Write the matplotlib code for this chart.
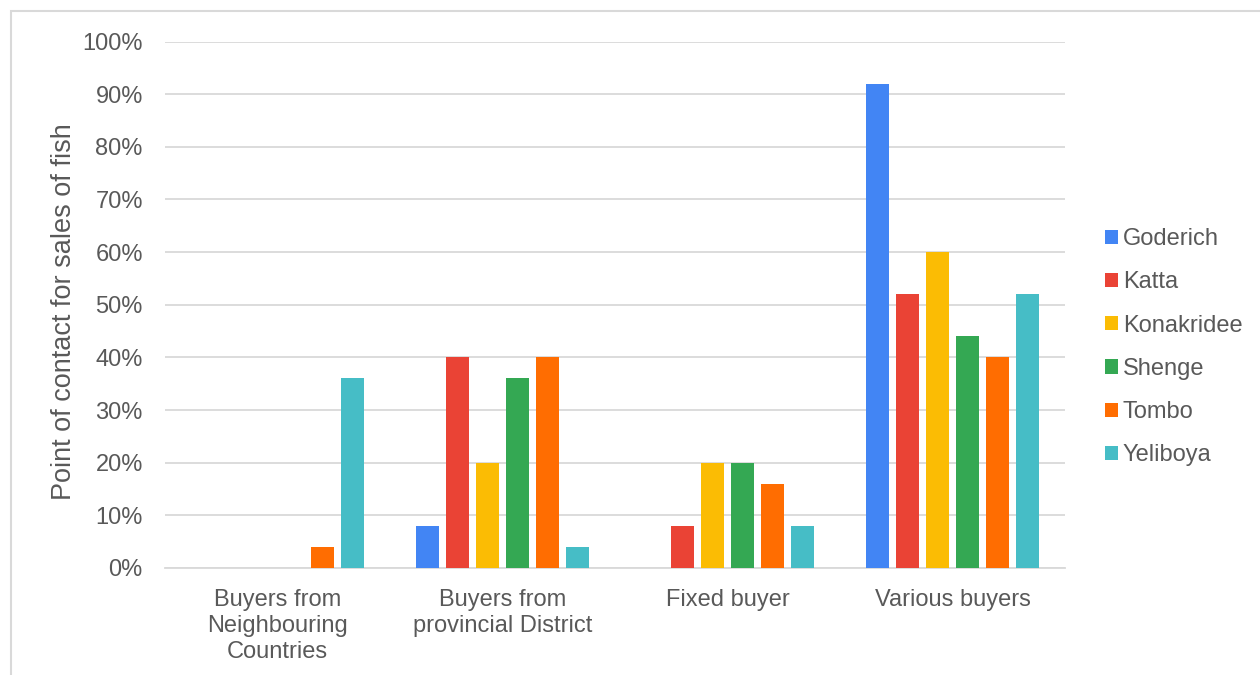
import numpy as np
import matplotlib.pyplot as plt
from matplotlib.patches import Rectangle

plt.rcParams['font.family'] = ['Liberation Sans', 'DejaVu Sans']

categories = ['Buyers from\nNeighbouring\nCountries', 'Buyers from\nprovincial District',
              'Fixed buyer', 'Various buyers']
sites = ['Goderich', 'Katta', 'Konakridee', 'Shenge', 'Tombo', 'Yeliboya']
goderich = [0, 8, 0, 92]
katta = [0, 40, 8, 52]
konakridee = [0, 20, 20, 60]
shenge = [0, 36, 20, 44]
tombo = [4, 40, 16, 40]
yeliboya = [36, 4, 8, 52]
series = [goderich, katta, konakridee, shenge, tombo, yeliboya]
colors = ['#4285F4', '#EA4335', '#FBBC04', '#34A853', '#FF6D01', '#46BDC6']

text_col = '#595959'
grid_col = '#D9D9D9'
fs = 17

fig = plt.figure(figsize=(12.6, 6.75), dpi=100)
ax = fig.add_axes([165 / 1260, 1 - 568 / 675, 900 / 1260, (568 - 41.5) / 675])

x = np.arange(len(categories))
pitch = 30 / 225
width = 23 / 225
for i, (name, vals, c) in enumerate(zip(sites, series, colors)):
    offs = (i - 2.5) * pitch
    ax.bar(x + offs, np.array(vals) / 100, width, color=c, label=name, zorder=3)

ax.set_xlim(-0.5, 3.5)
ax.set_ylim(0, 1)
ticks = np.arange(0, 1.01, 0.1)
ax.set_yticks(ticks)
ax.set_yticklabels([f'{int(round(v * 100))}%' for v in ticks])
ax.set_xticks(x)
ax.set_xticklabels(categories, linespacing=1.25)
ax.tick_params(axis='both', length=0, labelsize=fs, colors=text_col)
ax.tick_params(axis='y', pad=16)
ax.tick_params(axis='x', pad=15)
ax.grid(axis='y', color=grid_col, linewidth=1.3, zorder=0)
for s in ['top', 'right', 'left']:
    ax.spines[s].set_visible(False)
ax.spines['bottom'].set_color(grid_col)
ax.spines['bottom'].set_linewidth(1.3)

fig.text(64 / 1260, 1 - 312 / 675, 'Point of contact for sales of fish', rotation=90,
         ha='center', va='center', fontsize=19.5, color=text_col)

ax.legend(loc='center left', bbox_to_anchor=(1.0444, 0.4195), frameon=False,
          fontsize=fs, labelcolor=text_col, handlelength=0.55, handleheight=0.55,
          handletextpad=0.2, labelspacing=0.9, borderpad=0, borderaxespad=0)

# outer chart frame
fig.add_artist(Rectangle((11 / 1260, -0.05), 1.1, 1.05 - 11 / 675, transform=fig.transFigure,
                         fill=False, edgecolor=grid_col, linewidth=1.5))

fig.savefig('out.png', dpi=100)
